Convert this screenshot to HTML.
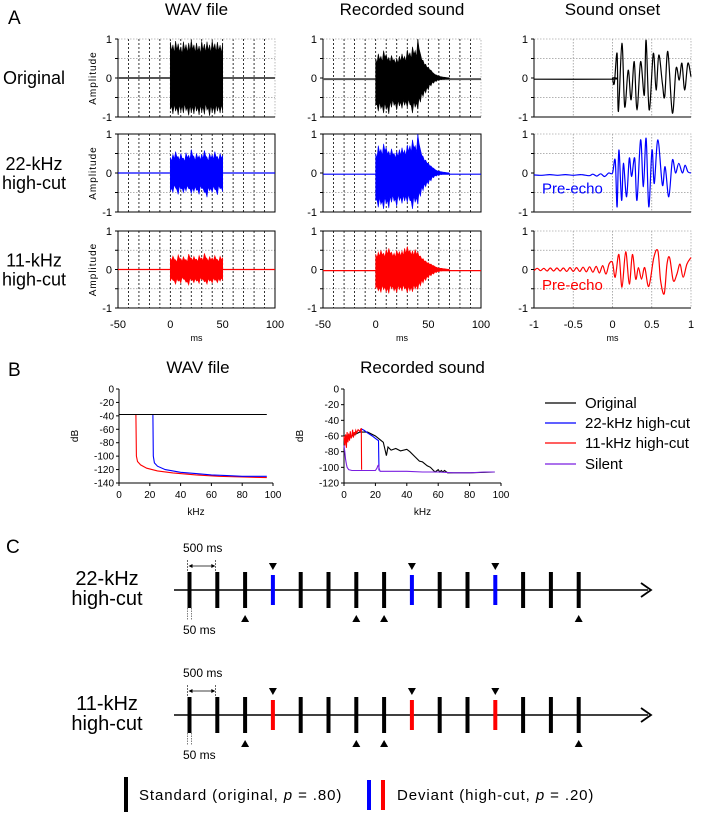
<!DOCTYPE html>
<html><head><meta charset="utf-8"><style>
html,body{margin:0;padding:0;background:#fff;}
svg{display:block;font-family:"Liberation Sans",Arial,sans-serif;}
</style></head><body>
<svg id="fig" width="708" height="814" viewBox="0 0 708 814" xmlns="http://www.w3.org/2000/svg"></svg>
<script>
// ---------- DATA ----------
const wavT = [0,2.5,5,7.5,10,12.5,15,17.5,20,22.5,25,27.5,30,32.5,35,37.5,40,42.5,45,47.5,50];
const wavOrigUp = [0.92,0.85,0.95,0.88,0.8,0.93,0.86,0.9,0.97,0.85,0.9,0.82,0.94,0.87,0.93,0.85,0.96,0.88,0.92,0.84,0.9];
const wavOrigLo = [-0.8,-0.92,-0.85,-0.95,-0.86,-0.9,-0.83,-0.96,-0.88,-0.92,-0.85,-0.95,-0.87,-0.93,-0.82,-0.97,-0.88,-0.93,-0.85,-0.9,-0.86];
const wav22Up = [0.4,0.48,0.55,0.42,0.5,0.38,0.52,0.45,0.6,0.42,0.5,0.44,0.48,0.58,0.4,0.5,0.46,0.55,0.42,0.5,0.45];
const wav22Lo = [-0.45,-0.5,-0.38,-0.55,-0.42,-0.5,-0.46,-0.4,-0.52,-0.48,-0.44,-0.55,-0.4,-0.5,-0.62,-0.45,-0.5,-0.42,-0.56,-0.4,-0.48];
const wav11Up = [0.3,0.35,0.25,0.38,0.28,0.33,0.26,0.4,0.3,0.34,0.27,0.36,0.3,0.42,0.28,0.33,0.3,0.36,0.26,0.34,0.3];
const wav11Lo = [-0.3,-0.28,-0.38,-0.3,-0.35,-0.25,-0.33,-0.4,-0.28,-0.34,-0.3,-0.36,-0.26,-0.32,-0.38,-0.3,-0.35,-0.28,-0.34,-0.3,-0.28];

const recT = [0,2.5,5,7.5,10,12.5,15,17.5,20,22.5,25,27.5,30,32.5,35,37.5,40,42.5,45,47.5,50,52.5,55,57.5,60,62.5,65,67.5,70];
const recOrigUp = [0.5,0.62,0.55,0.7,0.6,0.52,0.58,0.48,0.5,0.56,0.62,0.55,0.72,0.65,0.8,0.7,1.0,0.62,0.45,0.35,0.28,0.2,0.12,0.08,0.05,0.03,0.02,0.01,0.0];
const recOrigLo = [-0.7,-0.85,-0.78,-0.9,-0.8,-0.92,-0.75,-0.7,-0.82,-0.72,-0.78,-0.7,-0.75,-0.68,-0.9,-0.75,-0.8,-0.62,-0.48,-0.38,-0.3,-0.2,-0.13,-0.09,-0.06,-0.04,-0.03,-0.02,-0.02];
const rec22Up = [0.5,0.7,0.6,0.75,0.65,0.55,0.62,0.5,0.55,0.6,0.65,0.58,0.72,0.7,0.85,0.7,1.0,0.6,0.42,0.33,0.25,0.18,0.12,0.07,0.05,0.03,0.02,0.01,0.0];
const rec22Lo = [-0.7,-0.88,-0.8,-0.92,-0.78,-0.9,-0.75,-0.72,-0.85,-0.7,-0.78,-0.72,-0.75,-0.7,-0.92,-0.75,-0.8,-0.6,-0.45,-0.35,-0.28,-0.2,-0.12,-0.08,-0.06,-0.04,-0.03,-0.02,-0.02];
const rec11Up = [0.4,0.45,0.5,0.42,0.52,0.55,0.45,0.42,0.5,0.46,0.48,0.55,0.6,0.5,0.48,0.52,0.45,0.35,0.28,0.22,0.18,0.14,0.1,0.06,0.04,0.03,0.02,0.01,0.0];
const rec11Lo = [-0.5,-0.55,-0.6,-0.52,-0.58,-0.62,-0.5,-0.55,-0.6,-0.52,-0.56,-0.5,-0.6,-0.55,-0.58,-0.5,-0.52,-0.42,-0.35,-0.28,-0.22,-0.16,-0.12,-0.08,-0.06,-0.04,-0.03,-0.02,-0.02];

const onsOrigT = [-1,-0.01,0,0.023,0.058,0.075,0.12,0.156,0.2,0.237,0.277,0.312,0.358,0.405,0.428,0.468,0.52,0.555,0.59,0.636,0.665,0.705,0.763,0.81,0.85,0.884,0.92,0.96,1.0];
const onsOrigV = [-0.03,-0.03,0,-0.14,0.63,-0.86,0.89,-0.74,0.2,-0.56,0.42,-0.82,0.42,-0.44,0.97,-0.82,0.63,-0.31,0.59,-0.14,-0.48,0.68,-0.9,0.25,-0.05,0.38,-0.31,0.38,0.03];
const ons22T = [-1,-0.9,-0.8,-0.7,-0.6,-0.5,-0.4,-0.3,-0.25,-0.2,-0.15,-0.1,-0.05,0,0.035,0.058,0.081,0.116,0.139,0.179,0.214,0.243,0.283,0.312,0.358,0.393,0.428,0.462,0.503,0.532,0.578,0.636,0.67,0.717,0.763,0.803,0.844,0.89,0.925,0.96,1.0];
const ons22V = [-0.05,-0.06,-0.04,-0.06,-0.04,-0.06,-0.04,-0.07,-0.03,-0.08,-0.02,-0.09,0.0,0.0,0.33,-0.87,0.59,-0.7,0.25,-0.61,0.38,-0.09,0.38,-0.7,0.85,-0.35,0.89,-0.87,0.59,-0.27,0.85,-0.31,0.16,-0.61,0.33,0.0,0.25,0.0,0.2,0.03,0.0];
const ons11T = [-1,-0.958,-0.917,-0.875,-0.833,-0.792,-0.75,-0.708,-0.667,-0.625,-0.583,-0.542,-0.5,-0.458,-0.417,-0.375,-0.333,-0.292,-0.25,-0.208,-0.167,-0.125,-0.083,-0.042,0,0.035,0.081,0.121,0.168,0.214,0.254,0.295,0.33,0.37,0.41,0.462,0.526,0.578,0.613,0.659,0.694,0.728,0.775,0.82,0.86,0.9,0.948,1.0];
const ons11V = [-0.03,0.03,-0.03,0.03,-0.04,0.04,-0.04,0.04,-0.04,0.04,-0.05,0.05,-0.05,0.05,-0.05,0.06,-0.06,0.07,-0.07,0.08,-0.09,0.1,-0.12,0.15,0.18,-0.2,0.39,-0.46,0.46,-0.38,0.39,-0.25,0.05,-0.25,0.05,-0.44,0.31,0.48,-0.29,-0.63,0.14,0.31,-0.29,-0.12,0.14,-0.2,0.14,0.31];

const specWavOrigF = [0,96];
const specWavOrigV = [-38,-38];
const specWav22F = [0,22,22.3,23,25,30,40,50,60,70,80,96];
const specWav22V = [-38,-38,-100,-110,-115,-120,-124,-126,-128,-129,-130,-130];
const specWav11F = [0,11,11.3,12,14,18,25,35,50,65,80,96];
const specWav11V = [-38,-38,-100,-108,-113,-118,-122,-125,-128,-130,-131,-132];

const specRecOrigF = [0,5,10,15,20,22,25,27,28,30,33,36,40,42,45,48,50,53,55,57,58,60,61,62,63,64,66,70,80,96];
const specRecOrigV = [-60,-60,-55,-55,-60,-63,-68,-85,-74,-78,-76,-79,-77,-80,-86,-92,-93,-98,-100,-104,-106,-103,-106,-104,-106,-104,-107,-107,-107,-106];
const specRec22F = [10,11,13,15,18,20,22,22.3];
const specRec22V = [-55,-51,-53,-56,-60,-63,-66,-104];
const specRec11F = [0,0.5,1,1.5,2,2.5,3,3.5,4,4.5,5,5.5,6,6.5,7,7.5,8,9,10,11,11.2];
const specRec11V = [-60,-72,-58,-75,-55,-68,-57,-66,-54,-63,-60,-52,-62,-55,-58,-53,-56,-52,-54,-50,-103];
const specRecSilF = [0,0.5,1,1.5,2,3,5,10,15,20,21,21.5,22,22.5,23,30,40,50,60,70,80,90,96];
const specRecSilV = [-72,-80,-90,-96,-100,-103,-104,-104,-104,-104,-101,-98,-97,-102,-105,-105,-105,-106,-106,-107,-107,-106,-106];

const seqTypes = ['S','S','S','D','S','S','S','S','D','S','S','D','S','S','S'];
const seqUpIdx = [2,6,7,14];
const seqDownIdx = [3,8,11];

// ---------- HELPERS ----------
const svg = document.getElementById('fig');
const NS = 'http://www.w3.org/2000/svg';
function mk(tag, attrs, parent){
  const e = document.createElementNS(NS, tag);
  for (const k in attrs) e.setAttribute(k, attrs[k]);
  (parent || svg).appendChild(e);
  return e;
}
function txt(x, y, s, size, anchor, fill, parent){
  const t = mk('text', {x:x, y:y, 'font-size':size, 'text-anchor':anchor||'middle', fill:fill||'#000'}, parent);
  t.textContent = s;
  return t;
}
function lin(d0,d1,r0,r1){ return v => r0 + (v-d0)/(d1-d0)*(r1-r0); }
function smoothPath(pts){
  let d = 'M'+pts[0][0].toFixed(1)+','+pts[0][1].toFixed(1);
  for (let i=0;i<pts.length-1;i++){
    const p0=pts[Math.max(0,i-1)], p1=pts[i], p2=pts[i+1], p3=pts[Math.min(pts.length-1,i+2)];
    const c1x=p1[0]+(p2[0]-p0[0])/6, c1y=p1[1]+(p2[1]-p0[1])/6;
    const c2x=p2[0]-(p3[0]-p1[0])/6, c2y=p2[1]-(p3[1]-p1[1])/6;
    d += ' C'+c1x.toFixed(1)+','+c1y.toFixed(1)+' '+c2x.toFixed(1)+','+c2y.toFixed(1)+' '+p2[0].toFixed(1)+','+p2[1].toFixed(1);
  }
  return d;
}

// ---------- PANEL A ----------
const L = txt(8, 24, 'A', 19, 'start');


const cols = [{x0:118,x1:275,d0:-50,d1:100,title:'WAV file'},{x0:323,x1:481,d0:-50,d1:100,title:'Recorded sound'},{x0:534,x1:691,d0:-1,d1:1,title:'Sound onset'}];
const rows = [{y0:39,y1:117,color:'#000',lab:['Original']},{y0:134,y1:212,color:'#0000ff',lab:['22-kHz','high-cut']},{y0:231,y1:308,color:'#ff0000',lab:['11-kHz','high-cut']}];
const envData = [
  [[wavT,wavOrigUp,wavOrigLo],[recT,recOrigUp,recOrigLo]],
  [[wavT,wav22Up,wav22Lo],[recT,rec22Up,rec22Lo]],
  [[wavT,wav11Up,wav11Lo],[recT,rec11Up,rec11Lo]]
];
const onsData = [[onsOrigT,onsOrigV],[ons22T,ons22V],[ons11T,ons11V]];

cols.forEach((c,ci)=>{
  const t = txt((c.x0+c.x1)/2, 15, c.title, 17);
  
  
});
rows.forEach((r,ri)=>{
  const cy = (r.y0+r.y1)/2;
  if (r.lab.length===1){
    const t = txt(34, cy+6, r.lab[0], 18);
    
    
  } else {
    const t = txt(34, cy-3, r.lab[0], 18);
    
    
    const t2 = txt(34, cy+16, r.lab[1], 18);
    
    
  }
  cols.forEach((c,ci)=>{
    const g = mk('g', {});
    
    
    const X = lin(c.d0,c.d1,c.x0,c.x1), Y = lin(-1,1,r.y1,r.y0);
    [0.5,-0.5].forEach(v=>{ mk('line',{x1:c.x0,x2:c.x1,y1:Y(v),y2:Y(v),stroke:'#999','stroke-width':0.8,'stroke-dasharray':'1.5,1.5'},g); });
    if (ci<2){
      for (let v=-40; v<=90; v+=10){ mk('line',{x1:X(v),x2:X(v),y1:r.y0,y2:r.y1,stroke:'#000','stroke-width':0.8,'stroke-dasharray':'2,2'},g); }
      if (ri===0){
        mk('rect',{x:c.x0,y:r.y0,width:c.x1-c.x0,height:r.y1-r.y0,fill:'none',stroke:'#aaa','stroke-width':0.8,'stroke-dasharray':'1.5,1.5'},g);
        mk('line',{x1:c.x0,x2:c.x0,y1:r.y0,y2:r.y1,stroke:'#000','stroke-width':1},g);
        mk('line',{x1:c.x0,x2:c.x1,y1:r.y1,y2:r.y1,stroke:'#000','stroke-width':1},g);
      } else {
        mk('rect',{x:c.x0,y:r.y0,width:c.x1-c.x0,height:r.y1-r.y0,fill:'none',stroke:'#000','stroke-width':1},g);
      }
    } else {
      [-0.5,0,0.5].forEach(v=>{ mk('line',{x1:X(v),x2:X(v),y1:r.y0,y2:r.y1,stroke:'#999','stroke-width':0.8,'stroke-dasharray':'1.5,1.5'},g); });
      mk('rect',{x:c.x0,y:r.y0,width:c.x1-c.x0,height:r.y1-r.y0,fill:'none',stroke:'#aaa','stroke-width':0.8,'stroke-dasharray':'1.5,1.5'},g);
      mk('line',{x1:c.x0,x2:c.x0,y1:r.y0,y2:r.y1,stroke:'#000','stroke-width':1},g);
      mk('line',{x1:c.x0,x2:c.x1,y1:r.y1,y2:r.y1,stroke:'#333','stroke-width':1.2},g);
    }
    [-1,-0.5,0,0.5,1].forEach(v=>{ mk('line',{x1:c.x0-3,x2:c.x0,y1:Y(v),y2:Y(v),stroke:'#000','stroke-width':1},g); });
    [[1,'1'],[0,'0'],[-1,'-1']].forEach(([v,s])=>{ txt(c.x0-6, Y(v)+4, s, 11, 'end', '#000', g); });
    if (ci===0){
      const a = mk('text',{x:0,y:0,'font-size':10,'text-anchor':'middle','letter-spacing':'1',transform:'translate(96,'+((r.y0+r.y1)/2)+') rotate(-90)'},g);
      a.textContent = 'Amplitude';
      
      
    }
    if (ci<2){
      const [T,U,Lo] = envData[ri][ci];
      const base = ci===1 ? -0.03 : 0;
      mk('line',{x1:c.x0,x2:c.x1,y1:Y(base),y2:Y(base),stroke:ri===0?'#555':r.color,'stroke-width':ri===0?2:1.2},g);
      let d = 'M'+X(T[0])+','+Y(base);
      T.forEach((t,i)=>{ d += ' L'+X(t).toFixed(1)+','+Y(U[i]).toFixed(1); if(i<T.length-1){ const tm=(t+T[i+1])/2; d+=' L'+X(tm).toFixed(1)+','+Y(U[i]*0.75).toFixed(1);} });
      for (let i=T.length-1;i>=0;i--){ d += ' L'+X(T[i]).toFixed(1)+','+Y(Lo[i]).toFixed(1); if(i>0){ const tm=(T[i]+T[i-1])/2; d+=' L'+X(tm).toFixed(1)+','+Y(Lo[i]*0.78).toFixed(1);} }
      d += 'Z';
      const p = mk('path',{d:d,fill:r.color,stroke:r.color,'stroke-width':0.6},g);
      
      
    } else {
      const [T,V] = onsData[ri];
      const p = mk('path',{d:smoothPath(T.map((t,i)=>[X(t),Y(V[i])])),fill:'none',stroke:r.color,'stroke-width':1.2},g);
      
      
      if (ri>0){
        const pe = txt(542, Y(-0.4)+5, 'Pre-echo', 15, 'start', r.color, g);
        
        
      }
    }
    if (ri===2){
      const ticks = ci<2 ? [[-50,'-50'],[0,'0'],[50,'50'],[100,'100']] : [[-1,'-1'],[-0.5,'-0.5'],[0,'0'],[0.5,'0.5'],[1,'1']];
      ticks.forEach(([v,s])=>{ txt(X(v), 328, s, 11, 'middle', '#000', g); });
      const ms = txt((c.x0+c.x1)/2, 341, 'ms', 9, 'middle', '#000', g);
      
      
    }
  });
});

// ---------- PANEL B ----------
const LB = txt(8, 376, 'B', 19, 'start');


const bPlots = [
  {x0:119,x1:273,y0:389,y1:483,ymin:-140,title:'WAV file',series:[[specWav11F,specWav11V,'#ff0000'],[specWav22F,specWav22V,'#0000ff'],[specWavOrigF,specWavOrigV,'#000']]},
  {x0:344,x1:501,y0:389,y1:483,ymin:-120,title:'Recorded sound',series:[[specRecOrigF,specRecOrigV,'#000'],[specRec22F,specRec22V,'#0000ff'],[specRec11F,specRec11V,'#ff0000'],[specRecSilF,specRecSilV,'#7a1fe0']]}
];
bPlots.forEach((b,bi)=>{
  const g = mk('g',{});
  
  
  const X = lin(0,100,b.x0,b.x1), Y = lin(b.ymin,0,b.y1,b.y0);
  txt((b.x0+b.x1)/2+(bi===0?2:0), 373, b.title, 17, 'middle', '#000', g);
  mk('line',{x1:b.x0,x2:b.x0,y1:b.y0,y2:b.y1,stroke:'#000','stroke-width':1},g);
  mk('line',{x1:b.x0,x2:b.x1,y1:b.y1,y2:b.y1,stroke:'#000','stroke-width':1},g);
  for (let v=b.ymin; v<=0; v+=20){
    mk('line',{x1:b.x0-3,x2:b.x0,y1:Y(v),y2:Y(v),stroke:'#000'},g);
    txt(b.x0-5, Y(v)+3.5, String(v), 10, 'end', '#000', g);
  }
  for (let v=0; v<=100; v+=20){
    mk('line',{x1:X(v),x2:X(v),y1:b.y1,y2:b.y1+3,stroke:'#000'},g);
    txt(X(v), b.y1+15, String(v), 10, 'middle', '#000', g);
  }
  txt((b.x0+b.x1)/2, 515, 'kHz', 10, 'middle', '#000', g);
  const yl = mk('text',{x:0,y:0,'font-size':10,'text-anchor':'middle',transform:'translate('+(b.x0-41)+','+((b.y0+b.y1)/2)+') rotate(-90)'},g);
  yl.textContent = 'dB';
  b.series.forEach(([F,V,col])=>{
    const p = mk('polyline',{points:F.map((f,i)=>X(f).toFixed(1)+','+Y(V[i]).toFixed(1)).join(' '),fill:'none',stroke:col,'stroke-width':1.1},g);
    
    
  });
});
const legB = [['Original','#000'],['22-kHz high-cut','#0000ff'],['11-kHz high-cut','#ff0000'],['Silent','#7a1fe0']];
const legBY = [403,423,443,464];
legB.forEach(([s,c],i)=>{
  const g = mk('g',{});
  
  
  mk('line',{x1:545,x2:576,y1:legBY[i],y2:legBY[i],stroke:c,'stroke-width':1.2},g);
  txt(585, legBY[i]+5, s, 15, 'start', '#000', g);
});

// ---------- PANEL C ----------
const LC = txt(6, 553, 'C', 19, 'start');


const seqRows = [{y:590,lab:['22-kHz','high-cut'],dev:'#0000ff'},{y:715,lab:['11-kHz','high-cut'],dev:'#ff0000'}];
const bx = i => 189.5 + i*27.8;
seqRows.forEach((s,si)=>{
  const g = mk('g',{});
  
  
  txt(107, s.y-5, s.lab[0], 20, 'middle', '#000', g);
  txt(107, s.y+15, s.lab[1], 20, 'middle', '#000', g);
  mk('line',{x1:174,x2:648,y1:s.y,y2:s.y,stroke:'#000','stroke-width':1.6},g);
  mk('path',{d:'M641,'+(s.y-7)+' L651,'+s.y+' L641,'+(s.y+7),fill:'none',stroke:'#000','stroke-width':1.8},g);
  seqTypes.forEach((tp,i)=>{
    const dev = tp==='D';
    const r = mk('rect',{x:bx(i)-2,y:dev?s.y-15:s.y-18,width:4,height:dev?30:36,fill:dev?s.dev:'#000'},g);
    
    
  });
  seqDownIdx.forEach(i=>{ mk('path',{d:'M'+(bx(i)-4)+','+(s.y-27)+' L'+(bx(i)+4)+','+(s.y-27)+' L'+bx(i)+','+(s.y-20)+'Z',fill:'#000'},g); });
  seqUpIdx.forEach(i=>{ mk('path',{d:'M'+(bx(i)-4)+','+(s.y+32)+' L'+(bx(i)+4)+','+(s.y+32)+' L'+bx(i)+','+(s.y+25)+'Z',fill:'#000'},g); });
  mk('line',{x1:bx(0)-2,x2:bx(0)-2,y1:s.y-30,y2:s.y-18,stroke:'#000','stroke-width':0.6,'stroke-dasharray':'2,1'},g);
  mk('line',{x1:bx(1)-2,x2:bx(1)-2,y1:s.y-30,y2:s.y-18,stroke:'#000','stroke-width':0.6,'stroke-dasharray':'2,1'},g);
  mk('line',{x1:bx(0),x2:bx(1)-3,y1:s.y-24,y2:s.y-24,stroke:'#000','stroke-width':0.8},g);
  mk('path',{d:'M'+(bx(0)+3)+','+(s.y-26)+' L'+(bx(0)-1)+','+(s.y-24)+' L'+(bx(0)+3)+','+(s.y-22)+'Z',fill:'#000'},g);
  mk('path',{d:'M'+(bx(1)-6)+','+(s.y-26)+' L'+(bx(1)-2)+','+(s.y-24)+' L'+(bx(1)-6)+','+(s.y-22)+'Z',fill:'#000'},g);
  txt(183, s.y-38, '500 ms', 12, 'start', '#000', g);
  mk('line',{x1:bx(0)-2,x2:bx(0)-2,y1:s.y+18,y2:s.y+30,stroke:'#000','stroke-width':0.5,'stroke-dasharray':'1.5,1'},g);
  mk('line',{x1:bx(0)+2,x2:bx(0)+2,y1:s.y+18,y2:s.y+30,stroke:'#000','stroke-width':0.5,'stroke-dasharray':'1.5,1'},g);
  txt(183, s.y+44, '50 ms', 12, 'start', '#000', g);
});
const lc = mk('g',{});


mk('rect',{x:124,y:777,width:4,height:35,fill:'#000'},lc);
const t1 = mk('text',{x:139,y:800,'font-size':15,'letter-spacing':'0.9'},lc);
t1.innerHTML = 'Standard (original, <tspan font-style="italic">p</tspan> = .80)';
mk('rect',{x:367,y:780,width:4,height:30,fill:'#0000ff'},lc);
mk('rect',{x:381,y:780,width:4,height:30,fill:'#ff0000'},lc);
const t2 = mk('text',{x:397,y:800,'font-size':15,'letter-spacing':'0.9'},lc);
t2.innerHTML = 'Deviant (high-cut, <tspan font-style="italic">p</tspan> = .20)';
</script>
</body></html>
